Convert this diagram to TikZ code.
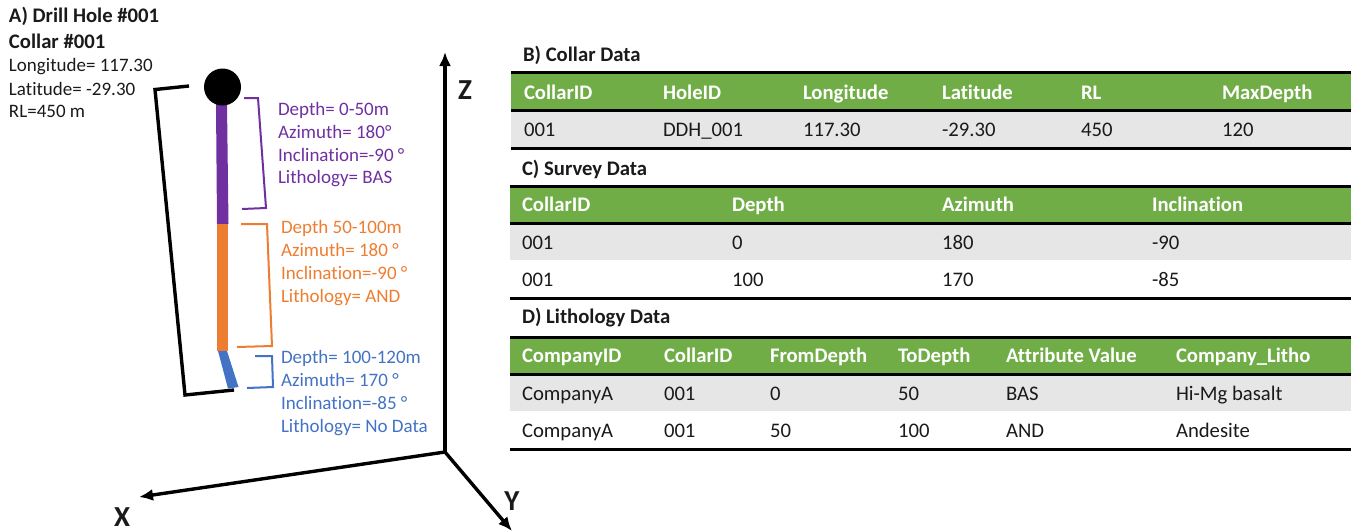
\documentclass[tikz,border=0pt]{standalone}
\usepackage{fontspec}
\setmainfont[Ligatures=NoCommon]{Carlito}
\usetikzlibrary{arrows.meta}
\definecolor{cpurple}{HTML}{7030A0}
\definecolor{corange}{HTML}{ED7D31}
\definecolor{cblue}{HTML}{4472C4}
\definecolor{cgreen}{HTML}{70AD47}
\definecolor{cgrey}{HTML}{E7E6E6}
\definecolor{ctext}{HTML}{1A1A1A}
\newcommand{\sz}{\fontsize{19}{21}\selectfont}
\newcommand{\tz}{\fontsize{20.7}{23}\selectfont}
\tikzset{
  txt/.style={anchor=base west,inner sep=0pt,outer sep=0pt,font=\sz,text=ctext},
  tab/.style={txt,font=\tz},
  ttl/.style={txt,font=\tz\bfseries},
  hdr/.style={txt,font=\tz\bfseries,text=white},
  rule/.style={line width=3pt,black},
  axis/.style={line width=3.4pt,black,-{Latex[length=14pt,width=12pt]}},
  axl/.style={inner sep=0pt,font=\fontsize{29}{29}\selectfont\bfseries,text=ctext},
  brk/.style={line width=2pt},
}
\begin{document}
\begin{tikzpicture}[x=1pt,y=-1pt]
\useasboundingbox (0,0) rectangle (1351,531);
% --- A) text
\node[ttl] (a1) at (9,22) {A) Drill Hole \#001};
\node[ttl] (a2) at (9,48) {Collar \#001};
\node[txt] (a3) at (9,71) {Longitude= 117.30};
\node[txt] (a4) at (9,95) {Latitude= -29.30};
\node[txt] (a5) at (9,117) {RL=450 m};
% --- hole
\fill[cpurple] (216,104)--(227,104)--(228.5,224)--(217,224)--cycle;
\fill[corange] (216.5,224)--(227.5,224)--(227.5,351)--(216.5,351)--cycle;
\fill[cblue] (218,351)--(227,351)--(238.5,387)--(228,388.5)--cycle;
\node[circle,fill=black,minimum size=37pt,inner sep=0pt] (collar) at (222.5,87) {};
% --- brackets
\coordinate (k1) at (189,86); \coordinate (k2) at (155,89.5); \coordinate (k3) at (185,395); \coordinate (k4) at (234,390);
\draw[line width=3.4pt,black,miter limit=10] (k1)--(k2)--(k3)--(k4);
\coordinate (p1) at (244,98); \coordinate (p2) at (258,98); \coordinate (p3) at (266,208); \coordinate (p4) at (242,209);
\draw[brk,cpurple] (p1)--(p2)--(p3)--(p4);
\coordinate (o1) at (241,224); \coordinate (o2) at (267,224); \coordinate (o3) at (272,346); \coordinate (o4) at (237,347);
\draw[brk,corange] (o1)--(o2)--(o3)--(o4);
\coordinate (b1) at (255,356); \coordinate (b2) at (272,356); \coordinate (b3) at (273,387); \coordinate (b4) at (247,388);
\draw[brk,cblue] (b1)--(b2)--(b3)--(b4);
% --- segment labels
\node[txt,text=cpurple] (p5) at (278,115) {Depth= 0-50m};
\node[txt,text=cpurple] (p6) at (278,138) {Azimuth= 180°};
\node[txt,text=cpurple] (p7) at (278,161) {Inclination=-90 °};
\node[txt,text=cpurple] (p8) at (278,183) {Lithology= BAS};
\node[txt,text=corange] (o5) at (281,233) {Depth 50-100m};
\node[txt,text=corange] (o6) at (281,256) {Azimuth= 180 °};
\node[txt,text=corange] (o7) at (281,279) {Inclination=-90 °};
\node[txt,text=corange] (o8) at (281,302) {Lithology= AND};
\node[txt,text=cblue] (b5) at (281,363) {Depth= 100-120m};
\node[txt,text=cblue] (b6) at (281,386) {Azimuth= 170 °};
\node[txt,text=cblue] (b7) at (281,409) {Inclination=-85 °};
\node[txt,text=cblue] (b8) at (281,432) {Lithology= No Data};
% --- axes
\coordinate (origin) at (445,452);
\coordinate (zend) at (445,52);
\coordinate (xend) at (139,497);
\coordinate (yend) at (512,531);
\draw[axis] (origin)--(zend);
\draw[axis] (origin)--(xend);
\draw[axis] (origin)--(yend);
\node[axl] (zl) at (465,90) {Z};
\node[axl] (xl) at (122,517) {X};
\node[axl] (yl) at (512,501) {Y};
% --- tables: fills
\fill[cgreen] (511,72) rectangle (1351,110);
\fill[cgrey]  (511,110) rectangle (1351,148);
\fill[cgreen] (510,186) rectangle (1351,223);
\fill[cgrey]  (510,223) rectangle (1351,260);
\fill[cgreen] (510,337) rectangle (1351,374);
\fill[cgrey]  (510,374) rectangle (1351,411);
\draw[rule] (511,72)--(1351,72);
\draw[rule] (511,110)--(1351,110);
\draw[rule] (511,148)--(1351,148);
\draw[rule] (510,186)--(1351,186);
\draw[rule] (510,223)--(1351,223);
\draw[rule] (510,298)--(1351,298);
\draw[rule] (510,337)--(1351,337);
\draw[rule] (510,374)--(1351,374);
\draw[rule] (510,449)--(1351,449);
% --- B
\node[ttl] (tb) at (523,61) {B) Collar Data};
\foreach \n/\x/\t in {1/524/CollarID,2/663/HoleID,3/803/Longitude,4/942/Latitude,5/1081/RL,6/1222/MaxDepth}
  \node[hdr] (bh\n) at (\x,99) {\t};
\foreach \n/\x/\t in {1/524/001,2/663/DDH\_001,3/803/117.30,4/942/-29.30,5/1081/450,6/1222/120}
  \node[tab] (br\n) at (\x,136) {\t};
% --- C
\node[ttl] (tc) at (522,175) {C) Survey Data};
\foreach \n/\x/\t in {1/522/CollarID,2/732/Depth,3/942/Azimuth,4/1152/Inclination}
  \node[hdr] (ch\n) at (\x,211) {\t};
\foreach \n/\x/\t in {1/522/001,2/732/0,3/942/180,4/1152/-90}
  \node[tab] (cr\n) at (\x,249) {\t};
\foreach \n/\x/\t in {1/522/001,2/732/100,3/942/170,4/1152/-85}
  \node[tab] (cs\n) at (\x,286) {\t};
% --- D
\node[ttl] (td) at (522,323) {D) Lithology Data};
\foreach \n/\x/\t in {1/522/CompanyID,2/664/CollarID,3/770/FromDepth,4/898/ToDepth,5/1006/Attribute Value,6/1176/Company\_Litho}
  \node[hdr] (dh\n) at (\x,362.5) {\t};
\foreach \n/\x/\t in {1/522/CompanyA,2/664/001,3/770/0,4/898/50,5/1006/BAS,6/1176/Hi-Mg basalt}
  \node[tab] (dr\n) at (\x,400) {\t};
\foreach \n/\x/\t in {1/522/CompanyA,2/664/001,3/770/50,4/898/100,5/1006/AND,6/1176/Andesite}
  \node[tab] (ds\n) at (\x,437) {\t};
\end{tikzpicture}
\end{document}
